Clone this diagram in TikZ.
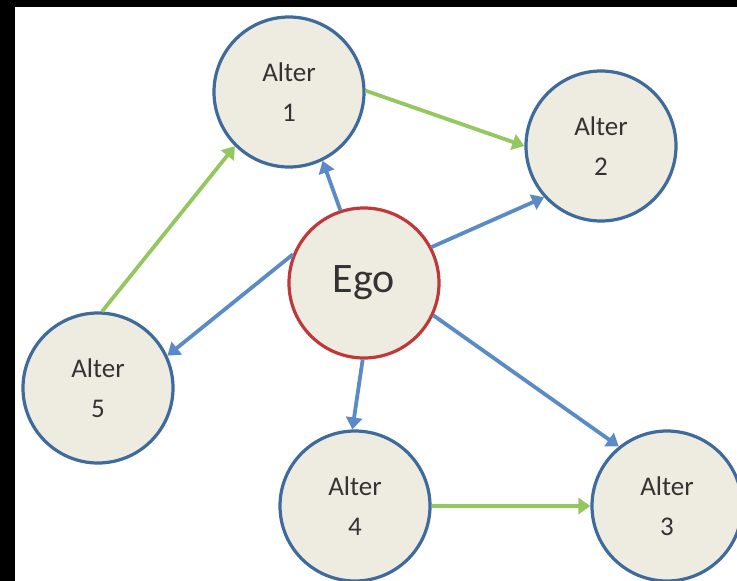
\documentclass[tikz,border=0pt]{standalone}
\usepackage{fontspec}
\setmainfont{Carlito}
\usetikzlibrary{arrows.meta}
\definecolor{discfill}{HTML}{EEECE1}
\definecolor{alterline}{HTML}{3F6A9C}
\definecolor{egoline}{HTML}{C0393A}
\definecolor{tieblue}{HTML}{5A8BC6}
\definecolor{tiegreen}{HTML}{93C760}
\definecolor{labelgrey}{HTML}{333333}
\tikzset{
  person/.style={circle, draw=alterline, line width=3.2pt, fill=discfill,
    minimum size=150pt, inner sep=0pt, align=center, text=labelgrey,
    font=\fontsize{27}{40}\selectfont},
  egonode/.style={person, draw=egoline, font=\fontsize{42}{46}\selectfont},
  tie/.style={line width=3.8pt, -{Triangle[length=12pt,width=16pt]}},
  egotie/.style={tie, draw=tieblue},
  altertie/.style={tie, draw=tiegreen}
}
\begin{document}
\begin{tikzpicture}[x=1pt,y=-1pt]
\useasboundingbox (0,0) rectangle (737,581);
\fill[black] (0,0) rectangle (737,581);
\fill[white] (15,7) rectangle (737,581);

\node[egonode] (ego) at (364,283) {Ego};
\node[person] (a1) at (289,92) {Alter\\1};
\node[person] (a2) at (601,146) {Alter\\2};
\node[person] (a3) at (667,506) {Alter\\3};
\node[person] (a4) at (355,506) {Alter\\4};
\node[person] (a5) at (98,388) {Alter\\5};

% ties from ego to each alter
\draw[egotie] (ego.108) -- (a1.-64);
\draw[egotie] (ego.28) -- (a2.222);
\draw[egotie] (ego.-25) -- (a3.129);
\draw[egotie] (ego.-91) -- (a4.92);
\draw[egotie] (ego.158) -- (a5.25);

% ties between alters
\draw[altertie] (a1.1) -- (a2.180);
\draw[altertie] (a5.87) -- (a1.225);
\draw[altertie] (a4.0) -- (a3.180);
\end{tikzpicture}
\end{document}
